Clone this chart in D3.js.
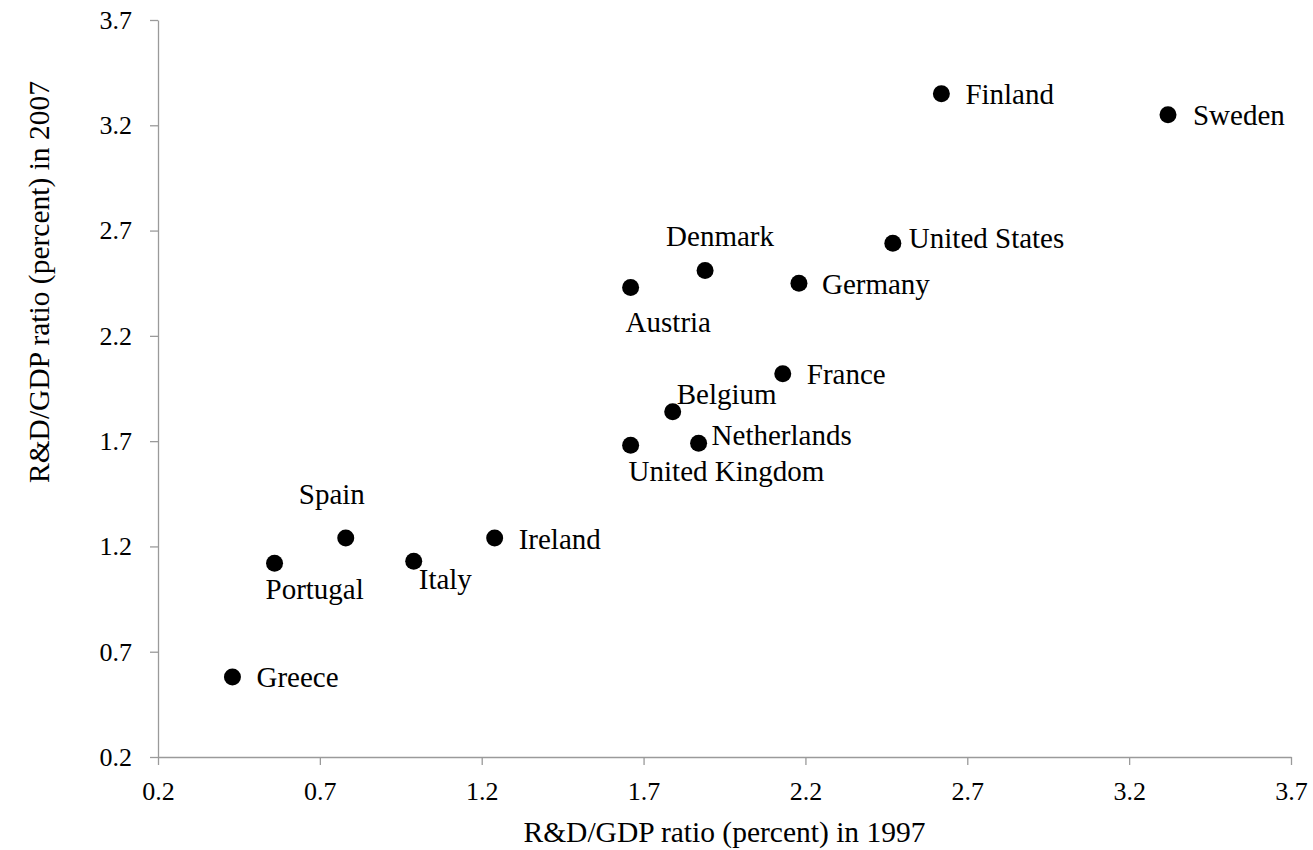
<!DOCTYPE html>
<html>
<head>
<meta charset="utf-8">
<script src="https://cdn.jsdelivr.net/npm/d3@7"></script>
<style>
  body { margin: 0; background: #fff; }
  svg { display: block; font-family: "Liberation Serif", "Times New Roman", serif; }
</style>
</head>
<body>
<svg id="chart" width="1313" height="850"></svg>
<script>
// Chart data: R&D/GDP ratio, 1997 vs 2007
var countries = ['Greece', 'Portugal', 'Spain', 'Italy', 'Ireland', 'Austria', 'Denmark', 'Germany',
  'United States', 'France', 'Belgium', 'Netherlands', 'United Kingdom', 'Finland', 'Sweden'];
var rd1997 = [0.43, 0.56, 0.78, 0.99, 1.24, 1.66, 1.89, 2.18, 2.47, 2.13, 1.79, 1.87, 1.66, 2.62, 3.32];
var rd2007 = [0.58, 1.12, 1.24, 1.13, 1.24, 2.43, 2.51, 2.45, 2.64, 2.02, 1.84, 1.69, 1.68, 3.35, 3.25];
var tickValues = [0.2, 0.7, 1.2, 1.7, 2.2, 2.7, 3.2, 3.7];
var xTitle = 'R&D/GDP ratio (percent) in 1997';
var yTitle = 'R&D/GDP ratio (percent) in 2007';

// label placement relative to the dot (text start, baseline)
var labelOffset = {
  'Greece': [24, 10], 'Ireland': [24, 11], 'Germany': [23, 11], 'France': [24, 10],
  'Finland': [24, 10], 'Sweden': [25, 10], 'United States': [16, 5],
  'Netherlands': [13, 2], 'Belgium': [4, -8], 'United Kingdom': [-2, 36],
  'Austria': [-5, 45], 'Denmark': [-39, -25], 'Spain': [-47, -34],
  'Portugal': [-9, 36], 'Italy': [5, 28]
};

var svg = d3.select('#chart');
var margin = { top: 20, left: 158, right: 22, bottom: 93 };
var width = 1313 - margin.left - margin.right;
var height = 850 - margin.top - margin.bottom;

var x = d3.scaleLinear().domain([0.2, 3.7]).range([0, width]);
var y = d3.scaleLinear().domain([0.2, 3.7]).range([height, 0]);

var g = svg.append('g').attr('transform', 'translate(' + margin.left + ',' + margin.top + ')');

var xAxis = g.append('g')
  .attr('transform', 'translate(0,' + height + ')')
  .call(d3.axisBottom(x).tickValues(tickValues).tickFormat(d3.format('.1f'))
    .tickSizeInner(8).tickSizeOuter(0).tickPadding(17));

var yAxis = g.append('g')
  .call(d3.axisLeft(y).tickValues(tickValues).tickFormat(d3.format('.1f'))
    .tickSizeInner(8).tickSizeOuter(0).tickPadding(18));

[xAxis, yAxis].forEach(function (a) {
  a.select('.domain').attr('stroke', '#9a9a9a').attr('stroke-width', 1.3);
  a.selectAll('.tick line').attr('stroke', '#9a9a9a').attr('stroke-width', 1.3);
  a.selectAll('.tick text')
    .attr('fill', '#000')
    .style('font-family', '"Liberation Serif", "Times New Roman", serif')
    .style('font-size', '26px');
});

var points = countries.map(function (c, i) {
  return { name: c, x: rd1997[i], y: rd2007[i] };
});

g.selectAll('circle.dot')
  .data(points)
  .enter()
  .append('circle')
  .attr('class', 'dot')
  .attr('cx', function (d) { return x(d.x); })
  .attr('cy', function (d) { return y(d.y); })
  .attr('r', 8.5)
  .attr('fill', '#000');

g.selectAll('text.label')
  .data(points)
  .enter()
  .append('text')
  .attr('class', 'label')
  .attr('x', function (d) { return x(d.x) + labelOffset[d.name][0]; })
  .attr('y', function (d) { return y(d.y) + labelOffset[d.name][1]; })
  .style('font-size', '29px')
  .attr('fill', '#000')
  .text(function (d) { return d.name; });

// axis titles
svg.append('text')
  .attr('x', margin.left + width / 2)
  .attr('y', 842)
  .attr('text-anchor', 'middle')
  .style('font-size', '29.5px')
  .text(xTitle);

svg.append('text')
  .attr('transform', 'translate(49,282) rotate(-90)')
  .attr('text-anchor', 'middle')
  .style('font-size', '29.5px')
  .text(yTitle);
</script>
</body>
</html>
